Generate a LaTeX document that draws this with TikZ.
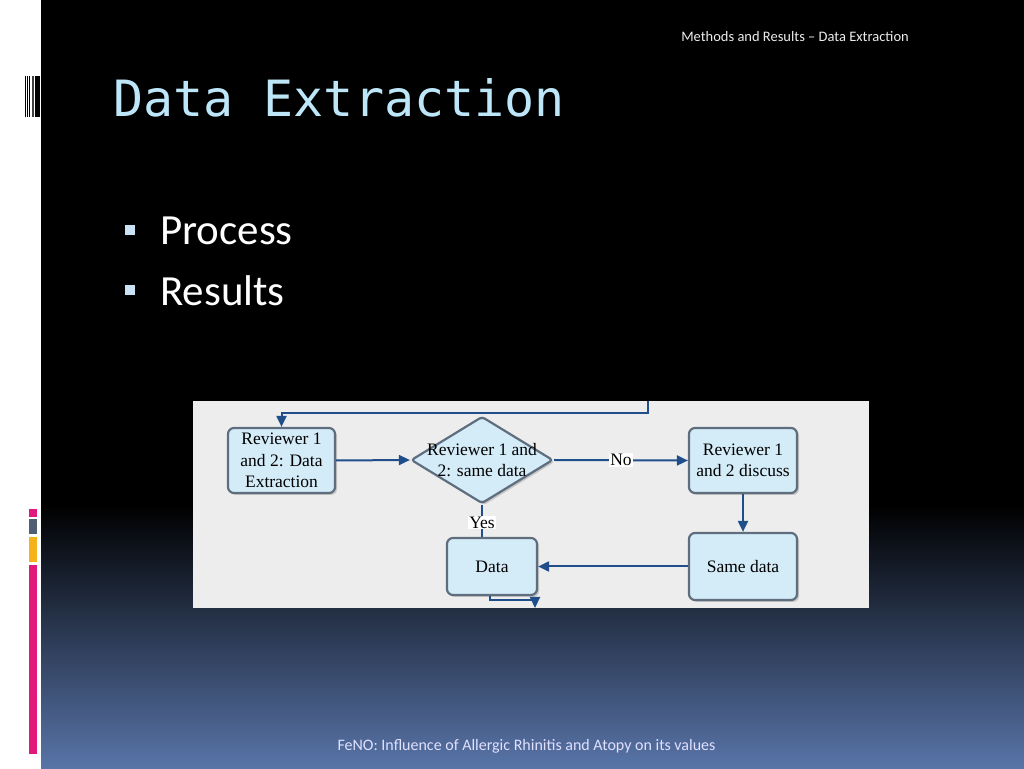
\documentclass[tikz,border=0pt]{standalone}
\usepackage{fontspec}
\setmainfont{Carlito}
\newfontfamily\titlefont{DejaVu Sans Mono}
\newfontfamily\chartfont{Liberation Serif}
\usetikzlibrary{arrows.meta, calc, shapes.geometric, shadows}
\definecolor{titleblue}{HTML}{BDE6F8}
\definecolor{bulletblue}{HTML}{C9E3F5}
\definecolor{bgblue}{HTML}{5874A8}
\definecolor{panelgray}{HTML}{EDEDED}
\definecolor{boxfill}{HTML}{D4EBF8}
\definecolor{boxline}{HTML}{5E6E7E}
\definecolor{flowblue}{HTML}{1F4E8A}
\definecolor{barpink}{HTML}{E0197A}
\definecolor{bargray}{HTML}{4F5F73}
\definecolor{barorange}{HTML}{F6B21A}

\begin{document}
\begin{tikzpicture}[x=1pt, y=1pt,
	flowbox/.style={draw=boxline, line width=2.2pt, fill=boxfill, rounded corners=6pt, inner sep=0pt, align=center,
		font=\chartfont\fontsize{17.5}{21.5}\selectfont,
		drop shadow={shadow xshift=2pt, shadow yshift=-2pt, opacity=0.35, fill=gray}},
	flowline/.style={draw=flowblue, line width=2pt},
	flowarrow/.style={flowline, -{Triangle[length=11pt, width=10pt]}},
	flowlabel/.style={fill=white, inner sep=1pt, font=\chartfont\fontsize{17.5}{20}\selectfont}]
	\useasboundingbox (0,0) rectangle (1024,768);
	\fill[white] (0,0) rectangle (41,768);
	\fill[black] (41,263) rectangle (1024,768);
	\shade[top color=black, bottom color=bgblue] (41,0) rectangle (1024,263);
	\foreach \xa/\xb/\c in {25/26/black, 27/28/black, 29/30/black, 31.5/33.5/darkgray, 34.5/39.5/black}
		\fill[\c] (\xa,651) rectangle (\xb,692);
	\fill[barpink] (28.5,251) rectangle (36.7,259);
	\fill[bargray] (28.5,234) rectangle (36.7,248.5);
	\fill[barorange] (28.5,206) rectangle (36.7,231);
	\fill[barpink] (28.5,14) rectangle (36.7,203);
	\node [anchor=base east, inner sep=0pt, text=white!85!gray, font=\fontsize{14.5}{16}\selectfont] (header) at (909,726) {Methods and Results -- Data Extraction};
	\node [anchor=base west, inner sep=0pt, text=titleblue, font=\titlefont\fontsize{50}{60}\selectfont] (title) at (113,651) {Data Extraction};
	\fill[bulletblue] (125,533) rectangle (135,543);
	\fill[bulletblue] (125,473) rectangle (135,483);
	\node [anchor=base west, inner sep=0pt, text=white, font=\fontsize{43}{50}\selectfont] (process) at (160,523) {Process};
	\node [anchor=base west, inner sep=0pt, text=white, font=\fontsize{43}{50}\selectfont] (results) at (160,462) {Results};
	\node [anchor=base, inner sep=0pt, text=white!88!blue, font=\fontsize{16}{18}\selectfont] (footer) at (526.5,18) {FeNO: Influence of Allergic Rhinitis and Atopy on its values};
	\fill[panelgray] (193,160) rectangle (869,367);
	\node [flowbox, minimum width=107pt, minimum height=65pt] (extract) at (281.5,307.5) {Reviewer 1\\and 2: Data\\Extraction};
	\node [flowbox, diamond, rounded corners=3pt, minimum width=142pt, minimum height=87pt] (same) at (482,308) {};
	\node [align=center, inner sep=0pt, font=\chartfont\fontsize{17.5}{21.5}\selectfont] (sametext) at (same) {Reviewer 1 and\\2: same data};
	\node [flowbox, minimum width=108pt, minimum height=65pt] (discuss) at (743,307.5) {Reviewer 1\\and 2 discuss};
	\node [flowbox, minimum width=108pt, minimum height=67pt] (samedata) at (743,201.5) {Same data};
	\node [flowbox, minimum width=90pt, minimum height=57pt] (data) at (492,201.5) {Data};
	\coordinate (loop) at (648,367);
	\coordinate (out) at (535,160);
	\draw[flowarrow] (loop) -- ++(0,-12) -| (extract.north);
	\draw[flowarrow] (extract.east) -- (same.west);
	\draw[flowarrow] (same.east) -- (discuss.west) node [midway, flowlabel] {No};
	\draw[flowarrow] (discuss.south) -- (samedata.north);
	\draw[flowarrow] (samedata.west) -- (data.east);
	\draw[flowline] (same.south) -- (same.south |- data.north) node [pos=0.55, flowlabel] {Yes};
	\draw[flowarrow] ($(data.south)+(-2,0)$) |- ($(out)+(0,8)$) -- (out);
\end{tikzpicture}
\end{document}
